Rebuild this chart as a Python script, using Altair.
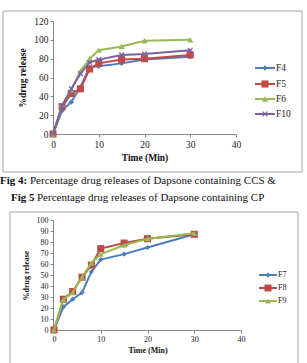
import altair as alt
import pandas as pd

# Dissolution time points (minutes)
time_min = [0, 2, 4, 6, 8, 10, 15, 20, 30]

# Fig 4: formulations containing CCS
f4 = [0, 25, 34, 50, 71, 72, 75, 79, 82]
f5 = [0, 29, 43, 48, 69, 75, 79, 80, 84]
f6 = [0, 31, 47, 67, 80, 89, 93, 99, 100]
f10 = [0, 30, 48, 64, 76, 79, 84, 85, 89]

# Fig 5: formulations containing CP
f7 = [0, 21, 28, 34, 53, 64, 69, 75, 87]
f8 = [0, 28, 35, 48, 59, 74, 79, 83, 87]
f9 = [0, 28, 34, 48, 61, 69, 77, 83, 88]

x_ticks = [0, 10, 20, 30, 40]
y_ticks_a = [0, 20, 40, 60, 80, 100, 120]
y_ticks_b = list(range(0, 101, 10))

FONT = "Liberation Serif"
BLUE, RED, GREEN, PURPLE = "#4A7EBB", "#BE4B48", "#98B954", "#7D60A0"
X_SHAPE = "M-1,-1L1,1M-1,1L1,-1"
FRAME = "#a6a6a6"

# Both figures share one view; the lower figure gets its own pixel ranges.
W1, H1 = 183, 113
TOP2, H2, W2 = 199, 110, 187

one = pd.DataFrame({"k": [0]})


def series_layers(values, color, shape, size, filled, x_enc, y_enc):
    df = pd.DataFrame({"t": time_min, "v": values})
    base = alt.Chart(df).encode(x=x_enc, y=y_enc)
    line = base.mark_line(color=color, strokeWidth=2)
    pts = base.mark_point(shape=shape, size=size, filled=filled, color=color,
                          opacity=1, strokeWidth=1.3)
    return [line, pts]


def legend_layers(name, color, shape, size, filled, x0, x1, y, fs):
    rule = alt.Chart(one).mark_rule(color=color, strokeWidth=2).encode(
        x=alt.value(x0), x2=alt.value(x1), y=alt.value(y))
    pt = alt.Chart(one).mark_point(shape=shape, size=size, filled=filled,
                                   color=color, opacity=1, strokeWidth=1.3).encode(
        x=alt.value((x0 + x1) / 2), y=alt.value(y))
    txt = alt.Chart(one).mark_text(font=FONT, fontSize=fs, color="#222",
                                   align="left", baseline="middle").encode(
        x=alt.value(x1 + 1), y=alt.value(y), text=alt.value(name))
    return [rule, pt, txt]


def axis_style(fs):
    return dict(grid=False, domainColor="#868686", tickColor="#868686",
                tickSize=3, labelFont=FONT, labelFontSize=fs, labelColor="#222",
                labelFlush=False, labelOverlap=False, labelPadding=2,
                titleFont=FONT, titleFontSize=fs, titleFontWeight="bold",
                titleColor="#111")


def frame_sides(x0, x1, y0, y1, bottom=True):
    def r(**enc):
        return alt.Chart(one).mark_rule(color=FRAME, strokeWidth=1).encode(**enc)
    sides = [r(x=alt.value(x0), y=alt.value(y0), y2=alt.value(y1)),
             r(x=alt.value(x1), y=alt.value(y0), y2=alt.value(y1)),
             r(x=alt.value(x0), x2=alt.value(x1), y=alt.value(y0))]
    if bottom:
        sides.append(r(x=alt.value(x0), x2=alt.value(x1), y=alt.value(y1)))
    return sides


def caption(bold, rest, x, y, gap):
    b = alt.Chart(one).mark_text(font=FONT, fontSize=11, fontWeight="bold",
                                 color="#111", align="left", baseline="middle").encode(
        x=alt.value(x), y=alt.value(y), text=alt.value(bold))
    r = alt.Chart(one).mark_text(font=FONT, fontSize=11, color="#111",
                                 align="left", baseline="middle").encode(
        x=alt.value(x + gap), y=alt.value(y), text=alt.value(rest))
    return [b, r]


# ---- Fig 4 ----
sa = axis_style(9.5)
xa = alt.X("t:Q", scale=alt.Scale(domain=[0, 40], nice=False, range=[0, W1]),
           axis=alt.Axis(values=x_ticks, title="Time (Min)", orient="bottom",
                         titleY=23, titleBaseline="middle", **sa))
ya = alt.Y("v:Q", scale=alt.Scale(domain=[0, 120], nice=False, range=[H1, 0]),
           axis=alt.Axis(values=y_ticks_a, title="%drug release", orient="left",
                         titleAngle=270, titleX=-31, titleY=H1 / 2,
                         titleAlign="center", titleBaseline="middle", **sa))
layers_a = frame_sides(-50, 249, -10, 151)
styles_a = [("F4", f4, BLUE, "diamond", 30, True),
            ("F5", f5, RED, "square", 50, True),
            ("F6", f6, GREEN, "triangle-up", 38, True),
            ("F10", f10, PURPLE, X_SHAPE, 22, False)]
for name, vals, col, shp, sz, fl in styles_a:
    layers_a += series_layers(vals, col, shp, sz, fl, xa, ya)
for (name, vals, col, shp, sz, fl), ly in zip(styles_a, [47, 63, 78, 93]):
    layers_a += legend_layers(name, col, shp, sz, fl, 202, 222, ly, 9.5)
layers_a += caption("Fig 4:", "Percentage drug releases of Dapsone containing CCS &",
                    -53, 160, 30)
layers_a += caption("Fig 5", "Percentage drug releases of Dapsone containing CP",
                    -42, 177, 26)
fig4 = alt.layer(*layers_a)

# ---- Fig 5 (its frame runs past the bottom edge) ----
sb = axis_style(8)
xb = alt.X("t:Q", scale=alt.Scale(domain=[0, 40], nice=False, range=[1, 1 + W2]),
           axis=alt.Axis(values=x_ticks, title="Time (Min)", orient="bottom",
                         offset=TOP2 + H2 - H1, titleX=1 + W2 / 2, titleY=20,
                         titleBaseline="middle", **sb))
yb = alt.Y("v:Q", scale=alt.Scale(domain=[0, 100], nice=False,
                                  range=[TOP2 + H2, TOP2]),
           axis=alt.Axis(values=y_ticks_b, title="%drug release", orient="left",
                         titleAngle=270, titleX=-27, titleY=TOP2 + H2 / 2,
                         titleAlign="center", titleBaseline="middle", **sb))
layers_b = frame_sides(-43, 245, TOP2 - 8, TOP2 + 144, bottom=False)
styles_b = [("F7", f7, BLUE, "diamond", 26, True),
            ("F8", f8, RED, "square", 50, True),
            ("F9", f9, GREEN, "triangle-up", 34, True)]
for name, vals, col, shp, sz, fl in styles_b:
    layers_b += series_layers(vals, col, shp, sz, fl, xb, yb)
for (name, vals, col, shp, sz, fl), ly in zip(styles_b, [55, 68, 81]):
    layers_b += legend_layers(name, col, shp, sz, fl, 206, 224, TOP2 + ly, 8)
fig5 = alt.layer(*layers_b)

# autosize "pad" shifts the origin by the leftmost/topmost drawn item
# (caption at x=-53, frame at y=-10), so the upper plot lands at (53, 20).
chart = alt.layer(fig4, fig5).resolve_scale(
    x="independent", y="independent"
).properties(
    width=W1, height=H1,
    padding={"left": 0, "top": 10, "right": 0, "bottom": 0},
    autosize=alt.AutoSizeParams(type="pad"),
    background="white",
).configure_view(stroke=None)

chart.save("out.html", embed_options={"renderer": "svg", "actions": False})
